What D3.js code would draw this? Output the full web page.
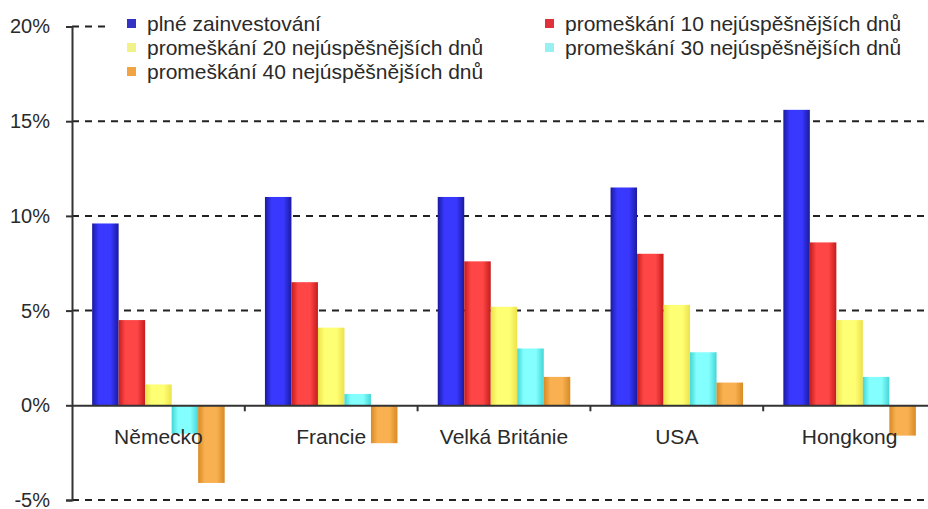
<!DOCTYPE html>
<html>
<head>
<meta charset="utf-8">
<script src="https://cdn.jsdelivr.net/npm/d3@7/dist/d3.min.js"></script>
<style>
  html, body { margin: 0; padding: 0; background: #fff; }
  svg { display: block; font-family: "Liberation Sans", Arial, sans-serif; }
</style>
</head>
<body>
<svg id="chart" width="928" height="509"></svg>
<script>
// Countries on the x axis
const categories = ["Německo", "Francie", "Velká Británie", "USA", "Hongkong"];

// Average annual return (%) per scenario
const seriesNames = [
  "plné zainvestování",
  "promeškání 10 nejúspěšnějších dnů",
  "promeškání 20 nejúspěšnějších dnů",
  "promeškání 30 nejúspěšnějších dnů",
  "promeškání 40 nejúspěšnějších dnů"
];
const fullyInvested = [9.6, 11.0, 11.0, 11.5, 15.6];
const missed10 = [4.5, 6.5, 7.6, 8.0, 8.6];
const missed20 = [1.1, 4.1, 5.2, 5.3, 4.5];
const missed30 = [-1.5, 0.6, 3.0, 2.8, 1.5];
const missed40 = [-4.1, -2.0, 1.5, 1.2, -1.6];

// Y axis ticks
const yTicks = [-5, 0, 5, 10, 15, 20];
const yTickLabels = ["-5%", "0%", "5%", "10%", "15%", "20%"];

const seriesValues = [fullyInvested, missed10, missed20, missed30, missed40];

// Bar fills: edge shade, centre shade, legend swatch
const palette = [
  { edge: "#1a1aa0", mid: "#3838ff", key: "#3232c4" },
  { edge: "#c41c1c", mid: "#ff4646", key: "#e0303c" },
  { edge: "#ece24a", mid: "#ffff74", key: "#f2f28a" },
  { edge: "#44d6d6", mid: "#84ffff", key: "#98f0f0" },
  { edge: "#d88a24", mid: "#f8b050", key: "#f0a444" }
];

const svg = d3.select("#chart");
const W = 928, H = 509;
const plotLeft = 72, plotRight = 936, plotTop = 26.5, plotBottom = 500;

const x0 = d3.scaleBand().domain(categories).range([plotLeft, plotRight]).paddingInner(0).paddingOuter(0);
const x1 = d3.scaleBand().domain(d3.range(seriesNames.length)).range([0, x0.bandwidth()])
  .paddingInner(0).paddingOuter(0.76);
const y = d3.scaleLinear().domain([-5, 20]).range([plotBottom, plotTop]);

// Gradients for the bars
const defs = svg.append("defs");
palette.forEach((p, i) => {
  const g = defs.append("linearGradient").attr("id", "grad" + i)
    .attr("x1", 0).attr("x2", 1).attr("y1", 0).attr("y2", 0);
  g.append("stop").attr("offset", "0%").attr("stop-color", p.edge);
  g.append("stop").attr("offset", "25%").attr("stop-color", p.mid);
  g.append("stop").attr("offset", "70%").attr("stop-color", p.mid);
  g.append("stop").attr("offset", "100%").attr("stop-color", p.edge);
});

// Dashed gridlines
svg.append("g").selectAll("line").data(yTicks.filter(t => t !== 0)).join("line")
  .attr("x1", plotLeft).attr("x2", W)
  .attr("y1", d => y(d)).attr("y2", d => y(d))
  .attr("stroke", "#222").attr("stroke-width", 2)
  .attr("stroke-dasharray", "7,6");

// Bars
const groups = svg.append("g").selectAll("g").data(categories).join("g")
  .attr("transform", d => `translate(${x0(d)},0)`);
groups.selectAll("rect")
  .data((c, ci) => seriesValues.map((vals, si) => ({ si, v: vals[ci] })))
  .join("rect")
  .attr("x", d => x1(d.si))
  .attr("width", x1.bandwidth())
  .attr("y", d => y(Math.max(0, d.v)))
  .attr("height", d => Math.abs(y(d.v) - y(0)))
  .attr("fill", d => `url(#grad${d.si})`);

// Y axis
const yAxis = d3.axisLeft(y).tickValues(yTicks).tickSize(6).tickPadding(16)
  .tickFormat((d, i) => yTickLabels[i]);
const yg = svg.append("g").attr("transform", `translate(${plotLeft},0)`).call(yAxis);
yg.select(".domain").attr("stroke", "#333").attr("stroke-width", 2);
yg.selectAll(".tick line").attr("stroke", "#333").attr("stroke-width", 2);
yg.selectAll(".tick text").attr("font-size", 20).attr("fill", "#2a2a2a")
  .attr("font-family", "Liberation Sans, Arial, sans-serif");

// X axis along zero
const xAxis = d3.axisBottom(x0).tickSize(0).tickPadding(24);
const xg = svg.append("g").attr("transform", `translate(0,${y(0)})`).call(xAxis);
xg.select(".domain").attr("stroke", "#333").attr("stroke-width", 2);
xg.selectAll(".tick text").attr("font-size", 21).attr("fill", "#2a2a2a")
  .attr("font-family", "Liberation Sans, Arial, sans-serif");
// Category separators
xg.append("g").selectAll("line").data(categories.slice(1)).join("line")
  .attr("x1", d => x0(d)).attr("x2", d => x0(d))
  .attr("y1", 0).attr("y2", 6)
  .attr("stroke", "#333").attr("stroke-width", 2);

// Legend
const legend = svg.append("g");
legend.append("rect").attr("x", 110).attr("y", 8).attr("width", W - 110).attr("height", 78)
  .attr("fill", "#fff");
const legendPos = [
  { x: 127, y: 24 }, { x: 545, y: 24 },
  { x: 127, y: 48 }, { x: 545, y: 48 },
  { x: 127, y: 72 }
];
seriesNames.forEach((name, i) => {
  const p = legendPos[i];
  legend.append("rect").attr("x", p.x).attr("y", p.y - 5).attr("width", 9).attr("height", 9)
    .attr("fill", palette[i].key);
  legend.append("text").attr("x", p.x + 20).attr("y", p.y).attr("dy", "0.35em")
    .attr("font-size", 21).attr("fill", "#2a2a2a").text(name);
});
</script>
</body>
</html>
